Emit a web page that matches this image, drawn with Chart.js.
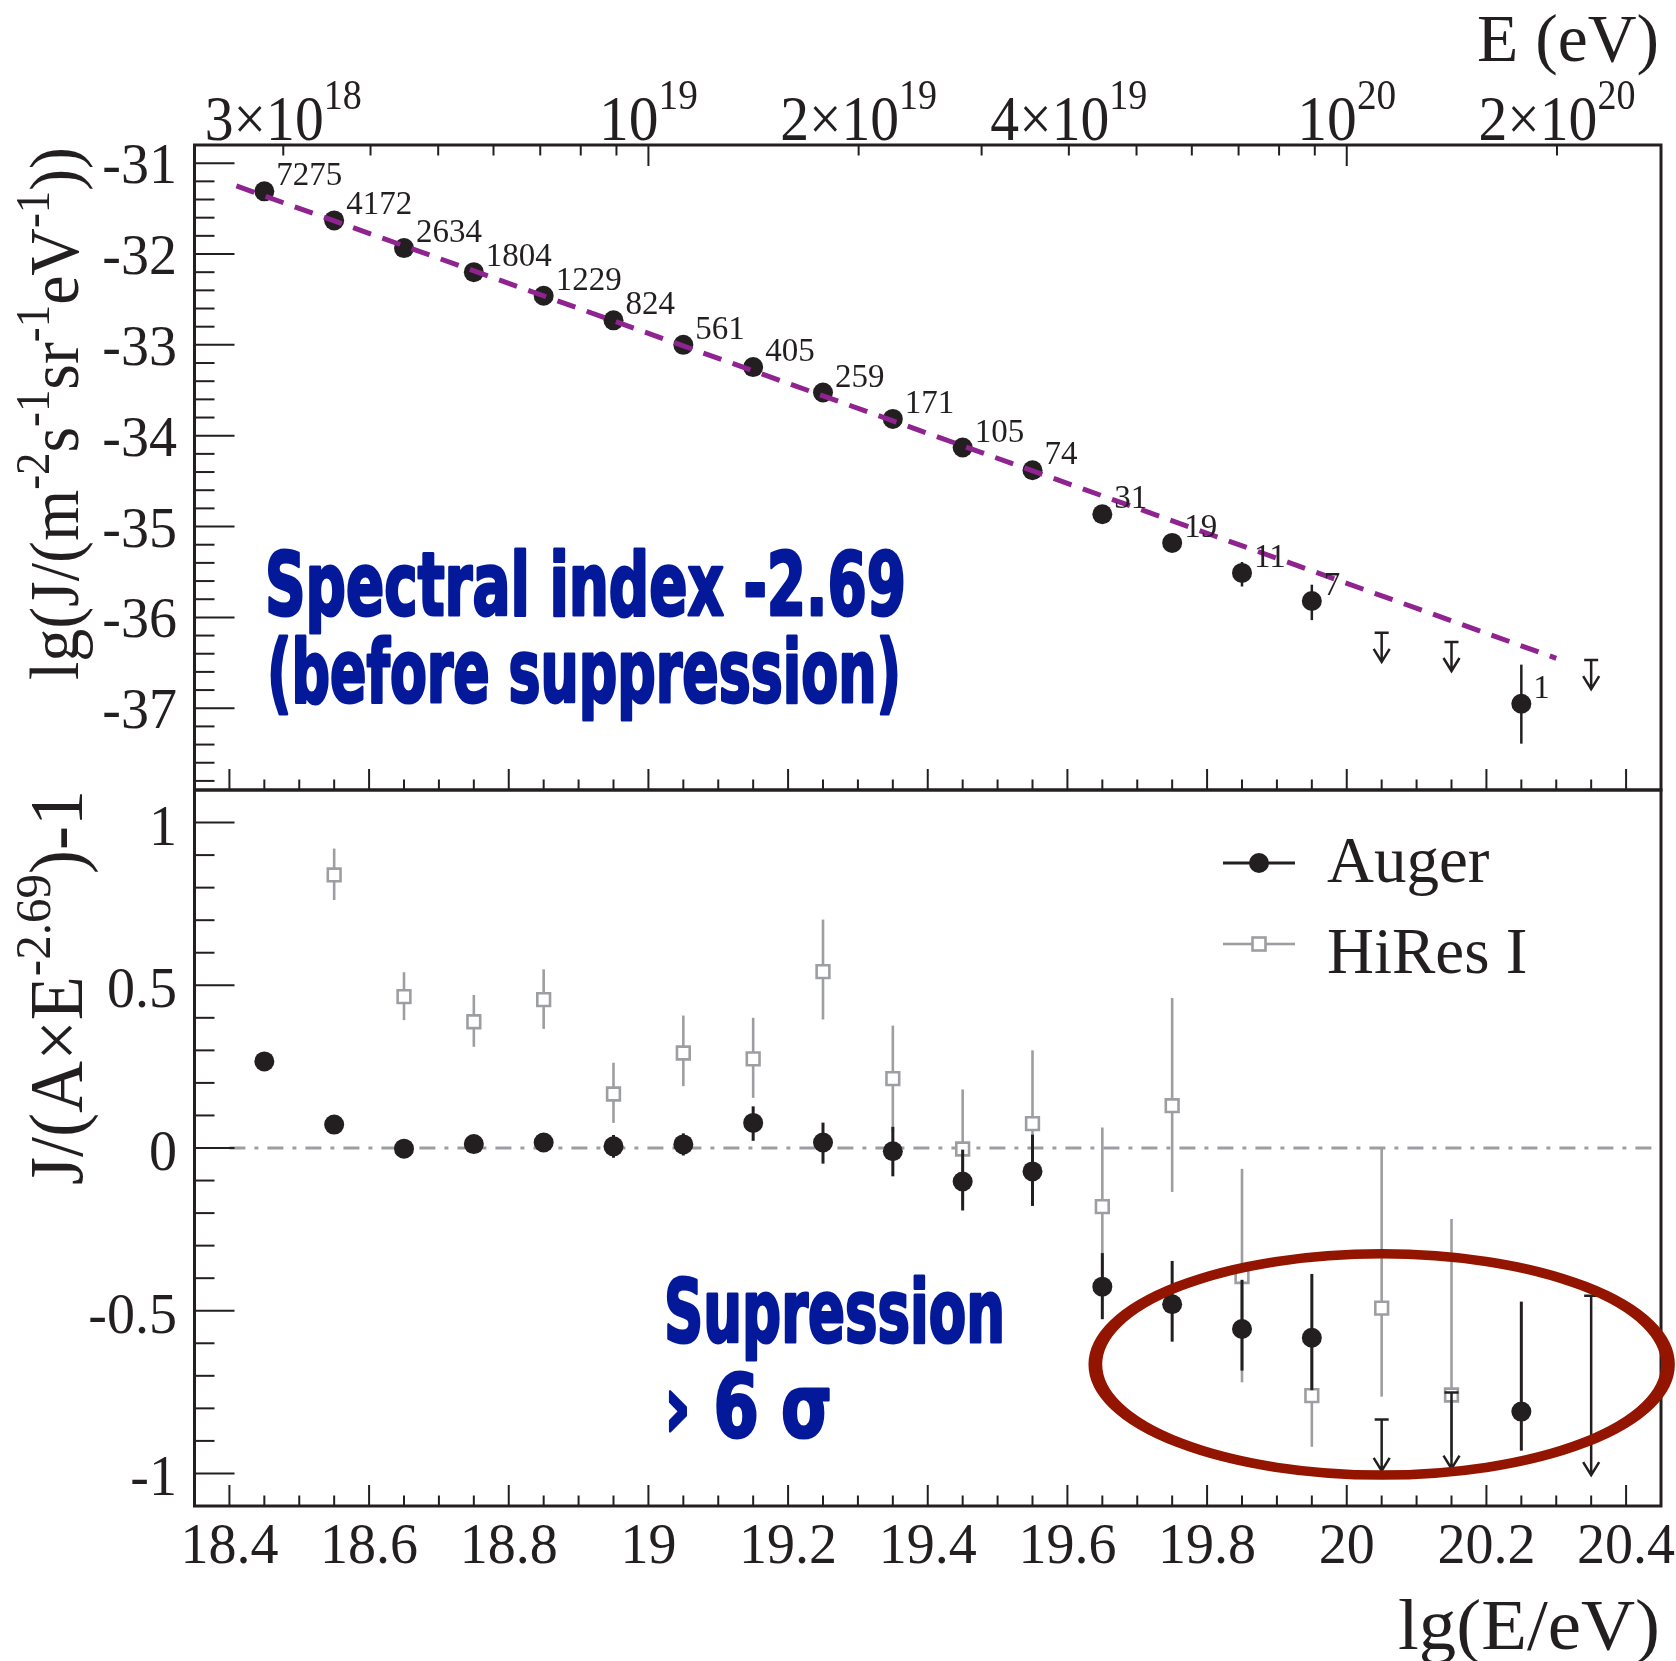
<!DOCTYPE html>
<html>
<head>
<meta charset="utf-8">
<script src="https://cdn.jsdelivr.net/npm/chart.js@4.4.1/dist/chart.umd.min.js"></script>
<style>
  html, body { margin: 0; padding: 0; background: #fff; }
  #wrap { position: relative; width: 1676px; height: 1661px; }
  #wrap canvas { position: absolute; left: 0; top: 0; }
</style>
</head>
<body>
<div id="wrap">
  <canvas id="fluxChart" width="1676" height="1661"></canvas>
  <canvas id="residualChart" width="1676" height="1661"></canvas>
</div>
<script>
// ---- data ----
const lgE = [18.45, 18.55, 18.65, 18.75, 18.85, 18.95, 19.05, 19.15, 19.25, 19.35,
             19.45, 19.55, 19.65, 19.75, 19.85, 19.95, 20.05, 20.15, 20.25, 20.35]
const eventCounts = [7275, 4172, 2634, 1804, 1229, 824, 561, 405, 259, 171,
                     105, 74, 31, 19, 11, 7, null, null, 1, null]

// upper panel: lg(J)
const fluxLg    = [-31.31, -31.63, -31.935, -32.20, -32.46, -32.73, -33.00, -33.245, -33.525, -33.815,
                   -34.13, -34.38, -34.865, -35.18, -35.51, -35.82, null, null, -36.95, null]
const fluxHi    = [-31.30, -31.62, -31.925, -32.19, -32.45, -32.72, -32.99, -33.23, -33.51, -33.80,
                   -34.11, -34.36, -34.84, -35.15, -35.39, -35.64, null, null, -36.52, null]
const fluxLo    = [-31.32, -31.64, -31.945, -32.21, -32.47, -32.74, -33.01, -33.26, -33.54, -33.83,
                   -34.15, -34.40, -34.89, -35.21, -35.66, -36.03, null, null, -37.39, null]
const fluxLimit = [null, null, null, null, null, null, null, null, null, null,
                   null, null, null, null, null, null, -36.17, -36.27, null, -36.47]
const fluxLimitTip = [null, null, null, null, null, null, null, null, null, null,
                      null, null, null, null, null, null, -36.49, -36.59, null, -36.79]
const fitLgE  = [18.41, 20.30]
const fitFlux = [-31.25, -36.45]

// lower panel: J/(A x E^-2.69) - 1, Auger
const augerRes   = [0.266, 0.072, -0.002, 0.012, 0.017, 0.005, 0.011, 0.077, 0.017, -0.010,
                    -0.103, -0.072, -0.426, -0.480, -0.556, -0.583, null, null, -0.810, null]
const augerResHi = [0.276, 0.087, 0.018, 0.032, 0.042, 0.040, 0.045, 0.128, 0.078, 0.065,
                    -0.005, 0.041, -0.323, -0.347, -0.405, -0.387, null, null, -0.472, null]
const augerResLo = [0.256, 0.057, -0.022, -0.008, -0.008, -0.030, -0.023, 0.022, -0.048, -0.087,
                    -0.192, -0.178, -0.526, -0.595, -0.684, -0.744, null, null, -0.930, null]
const augerLimit    = [null, null, null, null, null, null, null, null, null, null,
                       null, null, null, null, null, null, -0.834, -0.751, null, -0.454]
const augerLimitTip = [null, null, null, null, null, null, null, null, null, null,
                       null, null, null, null, null, null, -0.992, -0.985, null, -1.005]

// lower panel: HiRes I
const hiresLgE   = [18.55, 18.65, 18.75, 18.85, 18.95, 19.05, 19.15, 19.25, 19.35, 19.45,
                    19.55, 19.65, 19.75, 19.85, 19.95, 20.05, 20.15]
const hiresRes   = [0.839, 0.465, 0.388, 0.456, 0.166, 0.292, 0.274, 0.542, 0.213, -0.003,
                    0.075, -0.180, 0.130, -0.395, -0.761, -0.492, -0.759]
const hiresResHi = [0.920, 0.540, 0.470, 0.549, 0.262, 0.407, 0.400, 0.702, 0.376, 0.180,
                    0.300, 0.063, 0.461, -0.064, -0.600, 0.000, -0.218]
const hiresResLo = [0.762, 0.393, 0.311, 0.366, 0.077, 0.190, 0.154, 0.395, 0.050, -0.180,
                    -0.150, -0.420, -0.135, -0.720, -0.918, -0.764, -0.950]

const zeroLineLgE = [18.4, 20.45]

// suppression ellipse (centre / half-axes in data units)
const ellipseLgE = 20.05
const ellipseRes = -0.665
const ellipseHalfLgE = 0.41
const ellipseHalfRes = 0.34

// ticks and labels
const xTickValues = [18.4, 18.6, 18.8, 19, 19.2, 19.4, 19.6, 19.8, 20, 20.2, 20.4]
const xTickLabels = ['18.4', '18.6', '18.8', '19', '19.2', '19.4', '19.6', '19.8', '20', '20.2', '20.4']
const fluxTickValues = [-31, -32, -33, -34, -35, -36, -37]
const fluxTickLabels = ['-31', '-32', '-33', '-34', '-35', '-36', '-37']
const resTickValues = [1, 0.5, 0, -0.5, -1]
const resTickLabels = ['1', '0.5', '0', '-0.5', '-1']
const energyTickValues = [3e18, 1e19, 2e19, 4e19, 1e20, 2e20]
const energyTickMant = ['3\u00d710', '10', '2\u00d710', '4\u00d710', '10', '2\u00d710']
const energyTickExp = ['18', '19', '19', '19', '20', '20']

// ---- styles ----
const SERIF = "'Liberation Serif', 'Times New Roman', serif"
const HAND = "'Liberation Sans Narrow', 'DejaVu Sans Condensed', 'Open Sans', sans-serif"
const INK = '#231f20'
const GREY = '#9d9ea2'
const PURPLE = '#8f2390'
const BLUE = '#04199a'
const RED = '#931500'

function seg(ctx, x1, y1, x2, y2) {
  ctx.beginPath()
  ctx.moveTo(x1, y1)
  ctx.lineTo(x2, y2)
  ctx.stroke()
}

function limitArrow(ctx, px, yTop, yTip) {
  ctx.beginPath()
  ctx.moveTo(px - 7, yTop)
  ctx.lineTo(px + 7, yTop)
  ctx.moveTo(px, yTop)
  ctx.lineTo(px, yTip)
  ctx.moveTo(px - 8, yTip - 13)
  ctx.lineTo(px, yTip)
  ctx.lineTo(px + 8, yTip - 13)
  ctx.stroke()
}

function richWidth(ctx, parts, size, supScale) {
  let w = 0
  parts.forEach(([t, sup]) => {
    ctx.font = (sup ? size * supScale : size) + 'px ' + SERIF
    w += ctx.measureText(t).width
  })
  return w
}

function drawRich(ctx, parts, x, y, size, opts) {
  const supScale = opts.supScale || 0.68
  const rise = opts.rise || 0.45
  const natural = richWidth(ctx, parts, size, supScale)
  const sx = opts.width ? opts.width / natural : 1
  let start = 0
  if (opts.align === 'center') start = -natural * sx / 2
  if (opts.align === 'right') start = -natural * sx
  ctx.save()
  ctx.translate(x, y)
  if (opts.rotate) ctx.rotate(opts.rotate)
  ctx.translate(start, 0)
  ctx.scale(sx, 1)
  ctx.textBaseline = 'alphabetic'
  ctx.textAlign = 'left'
  let cx = 0
  parts.forEach(([t, sup]) => {
    ctx.font = (sup ? size * supScale : size) + 'px ' + SERIF
    ctx.fillText(t, cx, sup ? -size * rise : 0)
    cx += ctx.measureText(t).width
  })
  ctx.restore()
}

function drawHand(ctx, text, x, y, size, width) {
  ctx.save()
  ctx.font = 'bold ' + size + 'px ' + HAND
  const w = ctx.measureText(text).width
  ctx.translate(x, y)
  ctx.scale(width / w, 1)
  ctx.fillStyle = BLUE
  ctx.strokeStyle = BLUE
  ctx.lineJoin = 'round'
  ctx.lineWidth = 3
  ctx.textBaseline = 'alphabetic'
  ctx.fillText(text, 0, 0)
  ctx.strokeText(text, 0, 0)
  ctx.restore()
}

function drawFrame(ctx, area) {
  ctx.save()
  ctx.strokeStyle = INK
  ctx.lineWidth = 3
  ctx.strokeRect(area.left, area.top, area.right - area.left, area.bottom - area.top)
  ctx.restore()
}

function drawBottomTicks(ctx, xs, yBase) {
  ctx.save()
  ctx.strokeStyle = INK
  ctx.lineWidth = 2
  for (let i = 0; i <= 40; i++) {
    const px = xs.getPixelForValue(18.4 + i * 0.05)
    seg(ctx, px, yBase, px, yBase - (i % 4 === 0 ? 21 : 10.5))
  }
  ctx.restore()
}

const fluxPanel = {
  id: 'fluxPanel',
  beforeDatasetsDraw(chart) {
    const { ctx, scales: { x, y } } = chart
    ctx.save()
    ctx.strokeStyle = INK
    ctx.lineWidth = 2.5
    lgE.forEach((e, i) => {
      const px = x.getPixelForValue(e)
      if (fluxLg[i] !== null) seg(ctx, px, y.getPixelForValue(fluxHi[i]), px, y.getPixelForValue(fluxLo[i]))
      if (fluxLimit[i] !== null) limitArrow(ctx, px, y.getPixelForValue(fluxLimit[i]), y.getPixelForValue(fluxLimitTip[i]))
    })
    ctx.restore()
  },
  afterDraw(chart) {
    const { ctx, chartArea: a, scales: { x, y } } = chart
    drawFrame(ctx, a)
    drawBottomTicks(ctx, x, a.bottom)
    ctx.save()
    ctx.strokeStyle = INK
    ctx.lineWidth = 2
    // left ticks
    for (let t = -378; t <= -310; t += 2) {
      const py = y.getPixelForValue(t / 10)
      seg(ctx, a.left, py, a.left + (t % 10 === 0 ? 40 : 20), py)
    }
    // top energy ticks (log)
    for (let n = 18; n <= 20; n++) {
      for (let k = 1; k <= 9; k++) {
        const v = n + Math.log10(k)
        if (v <= 18.36 || v >= 20.44) continue
        const px = x.getPixelForValue(v)
        seg(ctx, px, a.top, px, a.top + (k === 1 ? 21 : 10.5))
      }
    }
    ctx.fillStyle = INK
    // left tick labels
    ctx.font = '56px ' + SERIF
    ctx.textAlign = 'right'
    ctx.textBaseline = 'alphabetic'
    fluxTickValues.forEach((v, i) => ctx.fillText(fluxTickLabels[i], 177, y.getPixelForValue(v) + 20))
    // top energy labels
    energyTickValues.forEach((v, i) => {
      drawRich(ctx, [[energyTickMant[i], 0], [energyTickExp[i], 1]], x.getPixelForValue(Math.log10(v)), 140, 63,
        { align: 'center', supScale: 0.66, rise: 0.5, width: i === 1 || i === 4 ? 99 : 157 })
    })
    // event counts
    ctx.font = '33px ' + SERIF
    ctx.textAlign = 'left'
    lgE.forEach((e, i) => {
      if (eventCounts[i] === null) return
      ctx.fillText(String(eventCounts[i]), x.getPixelForValue(e) + 12, y.getPixelForValue(fluxLg[i]) - 6)
    })
    // axis titles
    drawRich(ctx, [['E (eV)', 0]], 1477, 61, 68, { width: 182 })
    drawRich(ctx, [['lg(J/(m', 0], ['-2', 1], ['s', 0], ['-1', 1], ['sr', 0], ['-1', 1], ['eV', 0], ['-1', 1], ['))', 0]],
      78, 680, 70, { rotate: -Math.PI / 2, width: 533, rise: 0.42 })
    // annotation
    drawHand(ctx, 'Spectral index -2.69', 265, 615, 88, 641)
    drawHand(ctx, '(before suppression)', 267, 702, 88, 634)
    ctx.restore()
  }
}

const residualPanel = {
  id: 'residualPanel',
  beforeDatasetDraw(chart, args) {
    const { ctx, scales: { x, y } } = chart
    const label = chart.data.datasets[args.index].label
    ctx.save()
    if (label === 'HiRes I') {
      ctx.strokeStyle = GREY
      ctx.lineWidth = 2.6
      hiresLgE.forEach((e, i) => {
        const px = x.getPixelForValue(e)
        seg(ctx, px, y.getPixelForValue(hiresResHi[i]), px, y.getPixelForValue(hiresResLo[i]))
      })
    }
    if (label === 'Auger') {
      ctx.strokeStyle = INK
      ctx.lineWidth = 3
      lgE.forEach((e, i) => {
        const px = x.getPixelForValue(e)
        if (augerRes[i] !== null) seg(ctx, px, y.getPixelForValue(augerResHi[i]), px, y.getPixelForValue(augerResLo[i]))
      })
      ctx.lineWidth = 2.5
      lgE.forEach((e, i) => {
        if (augerLimit[i] !== null) limitArrow(ctx, x.getPixelForValue(e), y.getPixelForValue(augerLimit[i]), y.getPixelForValue(augerLimitTip[i]))
      })
    }
    ctx.restore()
  },
  afterDraw(chart) {
    const { ctx, chartArea: a, scales: { x, y } } = chart
    drawFrame(ctx, a)
    drawBottomTicks(ctx, x, a.bottom)
    ctx.save()
    ctx.strokeStyle = INK
    ctx.lineWidth = 2
    for (let t = -10; t <= 10; t++) {
      const py = y.getPixelForValue(t / 10)
      seg(ctx, a.left, py, a.left + (t % 5 === 0 ? 40 : 20), py)
    }
    ctx.fillStyle = INK
    ctx.font = '56px ' + SERIF
    ctx.textAlign = 'right'
    resTickValues.forEach((v, i) => ctx.fillText(resTickLabels[i], 177, y.getPixelForValue(v) + 22))
    ctx.textAlign = 'center'
    xTickValues.forEach((v, i) => ctx.fillText(xTickLabels[i], x.getPixelForValue(v), 1563))
    // titles
    drawRich(ctx, [['lg(E/eV)', 0]], 1398, 1649, 72, { width: 262 })
    drawRich(ctx, [['J/(A\u00d7E', 0], ['-2.69', 1], [')-1', 0]],
      82, 1185, 76, { rotate: -Math.PI / 2, width: 395, rise: 0.42 })
    // legend
    const ds = chart.data.datasets
    ctx.strokeStyle = INK
    ctx.lineWidth = 3
    seg(ctx, 1223, 863, 1295, 863)
    ctx.beginPath()
    ctx.arc(1259, 863, 10, 0, Math.PI * 2)
    ctx.fill()
    ctx.strokeStyle = GREY
    ctx.lineWidth = 2.6
    seg(ctx, 1223, 944, 1252, 944)
    seg(ctx, 1266, 944, 1295, 944)
    ctx.fillStyle = '#fff'
    ctx.fillRect(1252.5, 937.5, 13, 13)
    ctx.strokeRect(1252.5, 937.5, 13, 13)
    ctx.fillStyle = INK
    ctx.font = '65px ' + SERIF
    ctx.textAlign = 'left'
    ctx.fillText(ds[0].label, 1327, 882)
    ctx.fillText(ds[1].label, 1327, 973)
    // annotation
    drawHand(ctx, 'Supression', 664, 1342, 88, 341)
    drawHand(ctx, '\u203a 6 \u03c3', 664, 1437, 88, 168)
    // suppression ellipse
    const cx = x.getPixelForValue(ellipseLgE)
    const cy = y.getPixelForValue(ellipseRes)
    const rx = x.getPixelForValue(ellipseLgE + ellipseHalfLgE) - cx
    const ry = y.getPixelForValue(ellipseRes - ellipseHalfRes) - cy
    ctx.translate(cx, cy)
    ctx.scale(1.45, 1)
    ctx.beginPath()
    ctx.ellipse(0, 0, rx / 1.45, ry, 0, 0, Math.PI * 2)
    ctx.strokeStyle = RED
    ctx.lineWidth = 9.5
    ctx.stroke()
    ctx.restore()
  }
}

const baseOptions = (padding, xMin, xMax, yMin, yMax) => ({
  responsive: false,
  animation: false,
  devicePixelRatio: 1,
  events: [],
  layout: { padding },
  plugins: { legend: { display: false }, tooltip: { enabled: false } },
  scales: {
    x: { type: 'linear', min: xMin, max: xMax, display: false },
    y: { type: 'linear', min: yMin, max: yMax, display: false }
  }
})

new Chart(document.getElementById('fluxChart'), {
  type: 'scatter',
  data: {
    datasets: [
      {
        label: 'fit',
        type: 'line',
        data: fitLgE.map((e, i) => ({ x: e, y: fitFlux[i] })),
        borderColor: PURPLE,
        borderWidth: 5,
        borderDash: [19, 12],
        pointRadius: 0,
        fill: false,
        order: 0
      },
      {
        label: 'Auger',
        data: lgE.map((e, i) => ({ x: e, y: fluxLg[i] })).filter(p => p.y !== null),
        pointRadius: 10,
        pointBackgroundColor: INK,
        pointBorderWidth: 0,
        order: 1
      }
    ]
  },
  options: baseOptions({ left: 194.5, right: 15, top: 145, bottom: 871 }, 18.35, 20.45, -37.9, -30.8),
  plugins: [fluxPanel]
})

new Chart(document.getElementById('residualChart'), {
  type: 'scatter',
  data: {
    datasets: [
      {
        label: 'Auger',
        data: lgE.map((e, i) => ({ x: e, y: augerRes[i] })).filter(p => p.y !== null),
        pointRadius: 10,
        pointBackgroundColor: INK,
        pointBorderWidth: 0,
        order: 0
      },
      {
        label: 'HiRes I',
        data: hiresLgE.map((e, i) => ({ x: e, y: hiresRes[i] })),
        pointStyle: 'rect',
        pointRadius: 9,
        pointBackgroundColor: '#fff',
        pointBorderColor: GREY,
        pointBorderWidth: 2.6,
        order: 1
      },
      {
        label: 'zero',
        type: 'line',
        data: zeroLineLgE.map(e => ({ x: e, y: 0 })),
        borderColor: GREY,
        borderWidth: 3,
        borderDash: [16, 9, 4, 9],
        pointRadius: 0,
        fill: false,
        order: 2
      }
    ]
  },
  options: baseOptions({ left: 194.5, right: 15, top: 790, bottom: 155 }, 18.35, 20.45, -1.1, 1.1),
  plugins: [residualPanel]
})
</script>
</body>
</html>
